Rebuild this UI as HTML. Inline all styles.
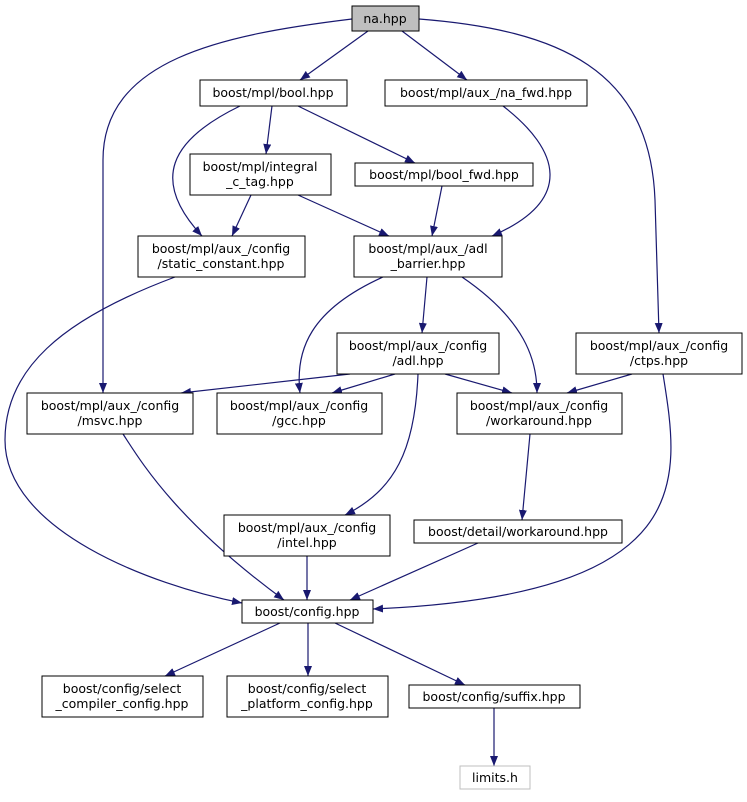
<!DOCTYPE html>
<html><head><meta charset="utf-8"><style>
body{margin:0;background:#fff}
svg text{font-family:"DejaVu Sans","Liberation Sans",sans-serif;font-size:12.5px;fill:#000}
</style></head><body>
<svg width="747" height="797" viewBox="0 0 747 797" xmlns="http://www.w3.org/2000/svg">
<defs><marker id="a" markerWidth="10" markerHeight="8" refX="10" refY="4" orient="auto" markerUnits="userSpaceOnUse"><path d="M0,0 L10,4 L0,8 Z" fill="#191970"/></marker></defs>
<g fill="none" stroke="#191970" stroke-width="1.2" marker-end="url(#a)">
<path d="M368,31 L300,80"/>
<path d="M402,31 L467,80"/>
<path d="M352,19 C220,35 103,60 103,160 L103,393"/>
<path d="M419,19 C560,30 650,70 655,200 L659,333"/>
<path d="M272,106 L266,154"/>
<path d="M298,106 L415,163"/>
<path d="M240,106 C170,140 150,180 202,236"/>
<path d="M503,106 C560,150 575,200 492,236"/>
<path d="M251,195 L232,236"/>
<path d="M298,195 L389,236"/>
<path d="M442,186 L432,236"/>
<path d="M175,277 C60,320 5,370 5,440 C5,530 150,585 242,603"/>
<path d="M427,277 L422,333"/>
<path d="M383,277 C310,310 295,350 300,393"/>
<path d="M462,277 C525,320 537,360 537,393"/>
<path d="M350,374 L181,393"/>
<path d="M395,374 L332,393"/>
<path d="M445,374 L512,393"/>
<path d="M418,374 C415,450 395,490 345,515"/>
<path d="M632,374 L567,393"/>
<path d="M663,374 C680,480 700,595 373,609"/>
<path d="M123,434 C140,460 175,520 284,600"/>
<path d="M530,434 L522,520"/>
<path d="M307,556 L307,600"/>
<path d="M478,543 L350,600"/>
<path d="M280,623 L165,676"/>
<path d="M308,623 L308,676"/>
<path d="M335,623 L465,685"/>
<path d="M494,708 L494,766"/>
</g>
<g stroke="#000" stroke-width="1" fill="#fff">
<rect x="352" y="6" width="67" height="25" fill="#bfbfbf"/>
<rect x="200" y="80" width="147" height="26"/>
<rect x="385" y="80" width="202" height="26"/>
<rect x="190" y="154" width="141" height="41"/>
<rect x="355" y="163" width="178" height="23"/>
<rect x="138" y="236" width="167" height="41"/>
<rect x="354" y="236" width="148" height="41"/>
<rect x="337" y="333" width="162" height="41"/>
<rect x="576" y="333" width="166" height="41"/>
<rect x="27" y="393" width="166" height="41"/>
<rect x="217" y="393" width="165" height="41"/>
<rect x="457" y="393" width="165" height="41"/>
<rect x="224" y="515" width="166" height="41"/>
<rect x="414" y="520" width="208" height="23"/>
<rect x="242" y="600" width="131" height="23"/>
<rect x="42" y="676" width="161" height="41"/>
<rect x="227" y="676" width="161" height="41"/>
<rect x="409" y="685" width="171" height="23"/>
<rect x="460" y="766" width="70" height="23" stroke="#bfbfbf"/>
</g>
<g text-anchor="middle">
<text x="385" y="23">na.hpp</text>
<text x="273" y="97">boost/mpl/bool.hpp</text>
<text x="486" y="97">boost/mpl/aux_/na_fwd.hpp</text>
<text x="260" y="171">boost/mpl/integral</text><text x="260" y="186">_c_tag.hpp</text>
<text x="444" y="179">boost/mpl/bool_fwd.hpp</text>
<text x="221" y="253">boost/mpl/aux_/config</text><text x="221" y="268">/static_constant.hpp</text>
<text x="428" y="253">boost/mpl/aux_/adl</text><text x="428" y="268">_barrier.hpp</text>
<text x="418" y="350">boost/mpl/aux_/config</text><text x="418" y="365">/adl.hpp</text>
<text x="659" y="350">boost/mpl/aux_/config</text><text x="659" y="365">/ctps.hpp</text>
<text x="110" y="410">boost/mpl/aux_/config</text><text x="110" y="425">/msvc.hpp</text>
<text x="299" y="410">boost/mpl/aux_/config</text><text x="299" y="425">/gcc.hpp</text>
<text x="539" y="410">boost/mpl/aux_/config</text><text x="539" y="425">/workaround.hpp</text>
<text x="307" y="532">boost/mpl/aux_/config</text><text x="307" y="547">/intel.hpp</text>
<text x="518" y="536">boost/detail/workaround.hpp</text>
<text x="307" y="616">boost/config.hpp</text>
<text x="122" y="693">boost/config/select</text><text x="122" y="708">_compiler_config.hpp</text>
<text x="307" y="693">boost/config/select</text><text x="307" y="708">_platform_config.hpp</text>
<text x="494" y="701">boost/config/suffix.hpp</text>
<text x="495" y="782">limits.h</text>
</g>
</svg>
</body></html>
